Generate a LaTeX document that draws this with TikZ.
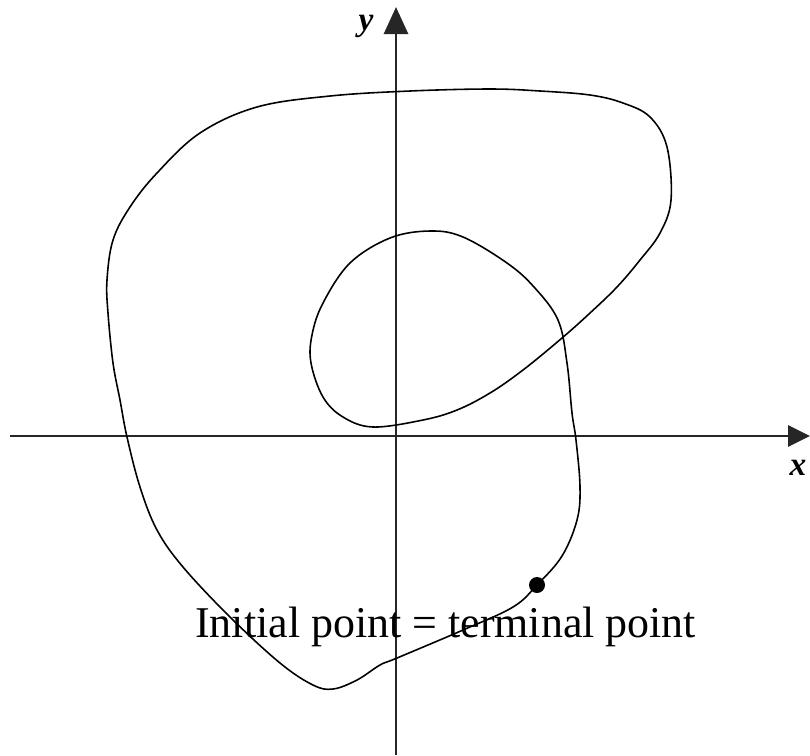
\documentclass[tikz,border=0pt]{standalone}
\usepackage{fontspec}
\setmainfont{Liberation Serif}
\usetikzlibrary{arrows.meta}
\begin{document}
\begin{tikzpicture}[x=0.02cm,y=-0.02cm,
  axis/.style={line width=1.6pt,draw=black!85,-{Triangle[length=0.54cm,width=0.48cm]}},
  curve/.style={line width=0.9pt,black},
  axlabel/.style={font=\fontsize{19}{22}\selectfont\bfseries\itshape,inner sep=0pt,anchor=base},
  dotstyle/.style={circle,fill=black,inner sep=0pt,minimum size=0.32cm}]
\useasboundingbox (0,0) rectangle (810,755);
% axes
\coordinate (xs) at (10,436);
\coordinate (xe) at (810,436);
\coordinate (ys) at (396,755);
\coordinate (ye) at (396,7);
\draw[axis,-{Triangle[length=0.44cm,width=0.42cm]}] (xs) -- (xe);
\draw[axis] (ys) -- (ye);
\node[axlabel] (ylab) at (366,30) {y};
\node[axlabel] (xlab) at (798,475) {x};
% closed curve
\draw[curve] plot[smooth cycle,tension=0.6] coordinates {
 (537,585) (562,556) (577,520) (580,487) (576,440) (572,413)
 (567,363) (558,320) (534,287) (507,263) (463,237) (430,231)
 (390,238) (350,263) (323,303) (312,335) (311,363)
 (323,397) (343,417) (373,427) (423,420) (457,410)
 (490,393) (523,370) (562,338) (590,313) (617,287) (640,260)
 (660,233) (671,200) (667,147) (650,117) (623,103) (590,95)
 (540,91) (490,89) (410,91) (330,96) (257,107) (200,133)
 (157,173) (130,207) (113,240) (107,280) (108,313) (113,363)
 (120,400) (127,437) (140,487) (157,530) (183,567) (230,617) (280,663)
 (313,685) (333,689) (357,680) (380,665) (397,658) (463,630) (513,607)};
\node[dotstyle] (pt) at (537,585) {};
\node[anchor=base west,inner sep=0pt,font=\fontsize{25}{30}\selectfont] (lbl) at (195,637) {Initial point = terminal point};
\end{tikzpicture}
\end{document}
